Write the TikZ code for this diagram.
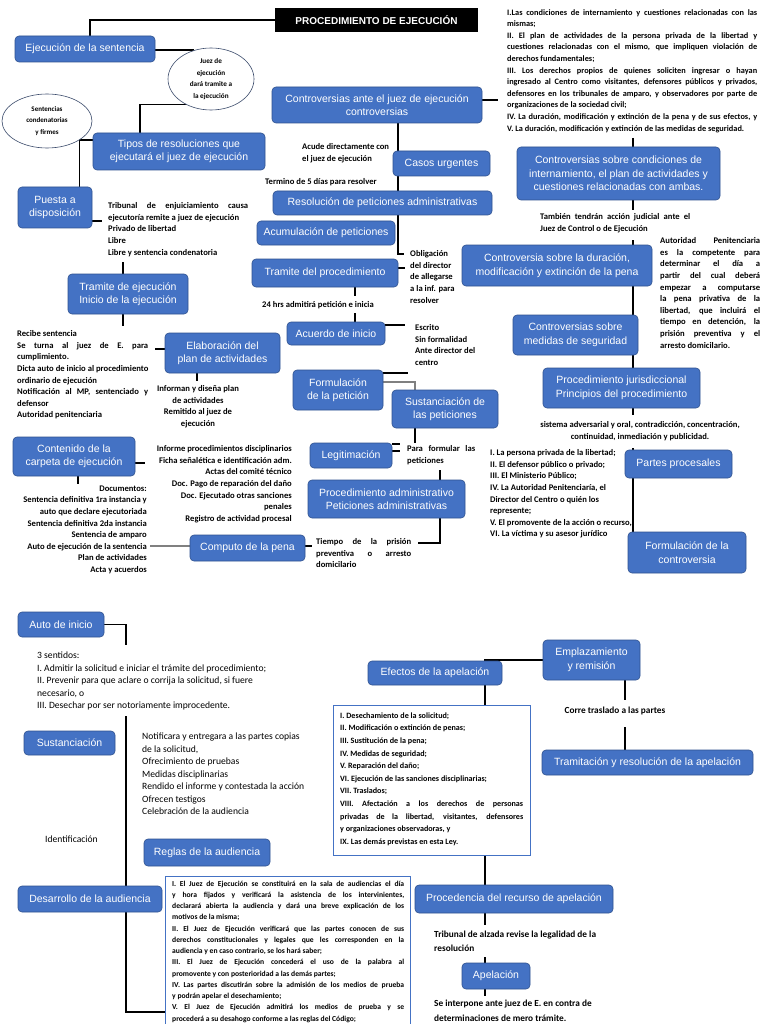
\documentclass[tikz,border=0pt]{standalone}
\usepackage{fontspec}
\setmainfont{Liberation Sans}
\newfontfamily\carl{Carlito}
\usetikzlibrary{shapes.geometric,backgrounds}
\definecolor{boxblue}{HTML}{4472C4}
\definecolor{boxedge}{HTML}{2F528F}
\definecolor{ovaledge}{HTML}{3C4C6C}
\newcommand{\jw}[2]{\makebox[#1pt][s]{#2}}
\newcommand{\sm}{\carl\bfseries\fontsize{8.6}{11.6}\selectfont}
\newcommand{\smb}{\carl\fontsize{9.6}{12.4}\selectfont}
\newcommand{\bxf}{\fontsize{10.5}{13.5}\selectfont}
\tikzset{
 bluebox/.style={rounded corners=4pt, fill=boxblue, draw=boxedge, line width=0.6pt, text=white, font=\bxf, align=center, inner sep=1pt},
 smalltext/.style={font=\sm, inner sep=0pt, anchor=north west, align=left},
 conn/.style={line width=1.3pt, black},
 gconn/.style={line width=1.3pt, gray},
 ovalnode/.style={ellipse, draw=ovaledge, line width=0.6pt, fill=white, inner sep=0pt, align=center, font=\carl\bfseries\fontsize{7.2}{11.7}\selectfont},
 listbox/.style={draw=boxblue, line width=0.8pt, fill=white, inner sep=0pt},
}
\newcommand{\mybox}[6]{\node[bluebox, minimum width={#4-#2}, minimum height={#5-#3}] (#1) at ({(#2+#4)/2},{(#3+#5)/2}) {#6};}
\begin{document}
\begin{tikzpicture}[x=1pt,y=-1pt]
\useasboundingbox (0,0) rectangle (768,1024);

% title
\node[fill=black, text=white, font=\bfseries\fontsize{10}{12}\selectfont, minimum width=203, minimum height=24, inner sep=0] (title) at (376.5,20) {PROCEDIMIENTO DE EJECUCIÓN};

% ellipses
\node[ovalnode, minimum width=86, minimum height=62] (el1) at (211,79) {Juez de\\ejecución\\dará tramite a\\la ejecución};
\node[ovalnode, font=\carl\bfseries\fontsize{7}{11.7}\selectfont, minimum width=90, minimum height=54] (el2) at (47,121) {Sentencias\\condenatorias\\y firmes};

% blue boxes top half
\mybox{ejec}{15}{36}{155}{62}{Ejecución de la sentencia}
\mybox{contr}{272}{87}{482}{123}{Controversias ante el juez de ejecución\\controversias}
\mybox{tipos}{93}{133}{265}{170}{Tipos de resoluciones que\\ejecutará el juez de ejecución}
\mybox{casos}{393}{151}{490}{176}{Casos urgentes}
\mybox{resol}{273}{191}{492}{215}{Resolución de peticiones administrativas}
\mybox{acum}{257}{221}{395}{245}{Acumulación de peticiones}
\mybox{puesta}{18}{187}{92}{228}{Puesta a\\disposición}
\mybox{tramproc}{252}{259}{398}{287}{Tramite del procedimiento}
\mybox{tramej}{68}{274}{188}{314}{Tramite de ejecución\\Inicio de la ejecución}
\mybox{acuerdo}{287}{322}{385}{345}{Acuerdo de inicio}
\mybox{elab}{165}{333}{280}{373}{Elaboración del\\plan de actividades}
\mybox{formpet}{293}{370}{383}{410}{Formulación\\de la petición}
\mybox{sustpet}{392}{390}{498}{428}{Sustanciación de\\las peticiones}
\mybox{contenido}{13}{437}{135}{476}{Contenido de la\\carpeta de ejecución}
\mybox{legit}{310}{443}{392}{468}{Legitimación}
\mybox{procadm}{308}{480}{465}{518}{Procedimiento administrativo\\Peticiones administrativas}
\mybox{computo}{190}{535}{305}{561}{Computo de la pena}
\mybox{csc}{517}{147}{720}{200}{Controversias sobre condiciones de\\internamiento, el plan de actividades y\\cuestiones relacionadas con ambas.}
\mybox{cdur}{462}{245}{652}{286}{Controversia sobre la duración,\\modificación y extinción de la pena}
\mybox{cmed}{513}{315}{638}{355}{Controversias sobre\\medidas de seguridad}
\mybox{pjur}{543}{368}{700}{408}{Procedimiento jurisdiccional\\Principios del procedimiento}
\mybox{partes}{625}{450}{732}{478}{Partes procesales}
\mybox{formcon}{628}{532}{746}{573}{Formulación de la\\controversia}

% blue boxes bottom half
\mybox{autoini}{18}{612}{104}{637}{Auto de inicio}
\mybox{sust}{24}{731}{115}{755}{Sustanciación}
\mybox{reglas}{144}{839}{270}{866}{Reglas de la audiencia}
\mybox{desarr}{18}{886}{162}{912}{Desarrollo de la audiencia}
\mybox{efectos}{368}{661}{502}{685}{Efectos de la apelación}
\mybox{emplaz}{543}{640}{640}{680}{Emplazamiento\\y remisión}
\mybox{tramit}{542}{750}{753}{775}{Tramitación y resolución de la apelación}
\mybox{proced}{415}{885}{613}{913}{Procedencia del recurso de apelación}
\mybox{apel}{462}{963}{530}{989}{Apelación}

% list boxes
\node[listbox, minimum width=197, minimum height=150] (eflist) at (431.5,780) {};
\node[listbox, minimum width=245, minimum height=170] (audbox) at (287.5,961) {};

% small texts, top half
\node[smalltext, font=\carl\bfseries\fontsize{8.3}{11.6}\selectfont] (toplist) at (507,9) {%
\jw{250}{I.Las condiciones de internamiento y cuestiones relacionadas con las}\\
mismas;\\
\jw{250}{II. El plan de actividades de la persona privada de la libertad y}\\
\jw{250}{cuestiones relacionadas con el mismo, que impliquen violación de}\\
derechos fundamentales;\\
\jw{250}{III. Los derechos propios de quienes soliciten ingresar o hayan}\\
\jw{250}{ingresado al Centro como visitantes, defensores públicos y privados,}\\
\jw{250}{defensores en los tribunales de amparo, y observadores por parte de}\\
organizaciones de la sociedad civil;\\
\jw{250}{IV. La duración, modificación y extinción de la pena y de sus efectos, y}\\
V. La duración, modificación y extinción de las medidas de seguridad.};
\node[smalltext] (acude) at (302,143.5) {Acude directamente con\\el juez de ejecución};
\node[smalltext] (termino) at (265,178.5) {Termino de 5 días para resolver};
\node[smalltext] (trib) at (108,202.5) {\jw{140}{Tribunal de enjuiciamiento causa}\\ejecutoría remite a juez de ejecución\\Privado de libertad\\Libre\\Libre y sentencia condenatoria};
\node[smalltext] (oblig) at (410,250.5) {Obligación\\del director\\de allegarse\\a la inf. para\\resolver};
\node[smalltext, anchor=center] (hrs) at (318,305) {24 hrs admitirá petición e inicia};
\node[smalltext] (escrito) at (415,324.5) {Escrito\\Sin formalidad\\Ante director del\\centro};
\node[smalltext] (recibe) at (17,330.5) {Recibe sentencia\\\jw{131}{Se turna al juez de E. para}\\cumplimiento.\\Dicta auto de inicio al procedimiento\\ordinario de ejecución\\\jw{131}{Notificación al MP, sentenciado y}\\defensor\\Autoridad penitenciaria};
\node[smalltext, anchor=north, align=center] (informan) at (198,385.5) {Informan y diseña plan\\de actividades\\Remitido al juez de\\ejecución};
\node[smalltext, anchor=north east, align=right] (informe) at (292,445.5) {Informe procedimientos disciplinarios\\Ficha señalética e identificación adm.\\Actas del comité técnico\\Doc. Pago de reparación del daño\\Doc. Ejecutado otras sanciones\\penales\\Registro de actividad procesal};
\node[smalltext] (para) at (407,445.5) {\jw{68}{Para formular las}\\peticiones};
\node[smalltext, anchor=north east, align=right] (docs) at (147,485.5) {Documentos:\\Sentencia definitiva 1ra instancia y\\auto que declare ejecutoriada\\Sentencia definitiva 2da instancia\\Sentencia de amparo\\Auto de ejecución de la sentencia\\Plan de actividades\\Acta y acuerdos};
\node[smalltext] (tiempo) at (316,538.5) {\jw{95}{Tiempo de la prisión}\\\jw{95}{preventiva o arresto}\\domicilario};

% small texts, right
\node[smalltext] (tambien) at (540,213.5) {\jw{150}{También tendrán acción judicial ante el}\\Juez de Control o de Ejecución};
\node[smalltext] (autoridad) at (660,237.5) {%
\jw{100}{Autoridad Penitenciaria}\\
\jw{100}{es la competente para}\\
\jw{100}{determinar el día a}\\
\jw{100}{partir del cual deberá}\\
\jw{100}{empezar a computarse}\\
\jw{100}{la pena privativa de la}\\
\jw{100}{libertad, que incluirá el}\\
\jw{100}{tiempo en detención, la}\\
\jw{100}{prisión preventiva y el}\\
arresto domicilario.};
\node[smalltext, anchor=north, align=center] (sistema) at (640,421.5) {sistema adversarial y oral, contradicción, concentración,\\continuidad, inmediación y publicidad.};
\node[smalltext] (personas) at (490,449.5) {I. La persona privada de la libertad;\\II. El defensor público o privado;\\III. El Ministerio Público;\\IV. La Autoridad Penitenciaría, el\\Director del Centro o quién los\\represente;\\V. El promovente de la acción o recurso,\\VI. La víctima y su asesor jurídico};

% small texts, bottom half
\node[smalltext, font=\smb] (sentidos) at (37,652) {3 sentidos:\\I. Admitir la solicitud e iniciar el trámite del procedimiento;\\II. Prevenir para que aclare o corrija la solicitud, si fuere\\necesario, o\\III. Desechar por ser notoriamente improcedente.};
\node[smalltext, font=\carl\fontsize{9.6}{12.5}\selectfont] (notif) at (142,733) {Notificara y entregara a las partes copias\\de la solicitud,\\Ofrecimiento de pruebas\\Medidas disciplinarias\\Rendido el informe y contestada la acción\\Ofrecen testigos\\Celebración de la audiencia};
\node[smalltext, font=\smb] (ident) at (45,835.5) {Identificación};
\node[smalltext, font=\carl\bfseries\fontsize{8.1}{12.6}\selectfont] (eftext) at (340,712.5) {I. Desechamiento de la solicitud;\\II. Modificación o extinción de penas;\\III. Sustitución de la pena;\\IV. Medidas de seguridad;\\V. Reparación del daño;\\VI. Ejecución de las sanciones disciplinarias;\\VII. Traslados;\\\jw{183}{VIII. Afectación a los derechos de personas}\\\jw{183}{privadas de la libertad, visitantes, defensores}\\y organizaciones observadoras, y\\IX. Las demás previstas en esta Ley.};
\node[smalltext, font=\carl\bfseries\fontsize{7.6}{11.25}\selectfont] (audtext) at (172,880.5) {%
\jw{232}{I. El Juez de Ejecución se constituirá en la sala de audiencias el día}\\
\jw{232}{y hora fijados y verificará la asistencia de los intervinientes,}\\
\jw{232}{declarará abierta la audiencia y dará una breve explicación de los}\\
motivos de la misma;\\
\jw{232}{II. El Juez de Ejecución verificará que las partes conocen de sus}\\
\jw{232}{derechos constitucionales y legales que les corresponden en la}\\
audiencia y en caso contrario, se los hará saber;\\
\jw{232}{III. El Juez de Ejecución concederá el uso de la palabra al}\\
promovente y con posterioridad a las demás partes;\\
\jw{232}{IV. Las partes discutirán sobre la admisión de los medios de prueba}\\
y podrán apelar el desechamiento;\\
\jw{232}{V. El Juez de Ejecución admitirá los medios de prueba y se}\\
procederá a su desahogo conforme a las reglas del Código;};
\node[smalltext, font=\carl\bfseries\fontsize{9.3}{12}\selectfont, anchor=center] (corre) at (615,711) {Corre traslado a las partes};
\node[smalltext, font=\carl\bfseries\fontsize{9.3}{13.5}\selectfont] (alzada) at (434,931) {Tribunal de alzada revise la legalidad de la\\resolución};
\node[smalltext, font=\carl\bfseries\fontsize{9.3}{14.5}\selectfont] (interp) at (434,1000) {Se interpone ante juez de E. en contra de\\determinaciones de mero trámite.};

% free-end coordinates
\coordinate (c1) at (102,221);
\coordinate (c2) at (123,262);
\coordinate (c3) at (123,326);
\coordinate (c4) at (155,349);
\coordinate (c5) at (197,381);
\coordinate (c6) at (145,463);
\coordinate (c7) at (78,484);
\coordinate (c8) at (150,546);
\coordinate (c9) at (312,546);
\coordinate (c10) at (418,543);
\coordinate (c11) at (440,470);
\coordinate (c12a) at (400,444);
\coordinate (c12b) at (400,451);
\coordinate (c13) at (415,443);
\coordinate (c14) at (408,373);
\coordinate (c15) at (383,382);
\coordinate (c16) at (405,325);
\coordinate (c17) at (355,296);
\coordinate (c18) at (355,313);
\coordinate (c19) at (405,268);
\coordinate (c20) at (404,254);
\coordinate (c21) at (498,100);
\coordinate (c22) at (633,138);
\coordinate (c23) at (633,210);
\coordinate (c24) at (633,240);
\coordinate (c25) at (633,415);
\coordinate (c26) at (633,448);
\coordinate (c27) at (126,645);
\coordinate (c28) at (126,716);
\coordinate (c29) at (165,1012);
\coordinate (c30) at (485,925);
\coordinate (c31) at (485,957);
\coordinate (c32) at (485,996);
\coordinate (c33) at (625,700);
\coordinate (c34) at (625,727);

\begin{pgfonlayer}{background}
\fill[white] (0,0) rectangle (768,1024);
\draw[conn] (title.west) -| ([xshift=5pt]ejec.north);
\draw[conn] (ejec.east |- el1.120) -- (el1.120);
\draw[conn] ([xshift=-39pt]tipos.north) |- (el1.225);
\draw[conn] (tipos.west |- el2.-30) -- (el2.-30) -- (el2.-30 |- puesta.north);
\draw[conn] (puesta.east |- c1) -- (c1);
\draw[conn] (c2) -- (c2 |- tramej.north);
\draw[conn] (c3 |- tramej.south) -- (c3);
\draw[conn] (c4) -- (elab.west |- c4);
\draw[conn] (c5 |- elab.south) -- (c5);
\draw[conn] (contenido.east |- c6) -- (c6);
\draw[conn] (c7 |- contenido.south) -- (c7);
\draw[gconn] (c8) -- (computo.west |- c8);
\draw[conn] (computo.east |- c9) -- (c9);
\draw[conn] (c10) -| ([xshift=53.5pt]procadm.south);
\draw[conn] (c11) -- ([xshift=53.5pt]procadm.north);
\draw[conn] (legit.east |- c12a) -- (c12a);
\draw[conn] (legit.east |- c12b) -- (c12b);
\draw[conn] ([xshift=-30pt]sustpet.south) -- (c13);
\draw[conn] (formpet.east |- c14) -- (c14);
\draw[gconn] (c15) -| ([xshift=-30pt]sustpet.north);
\draw[conn] (acuerdo.east |- c16) -- (c16);
\draw[conn] (c17 |- tramproc.south) -- (c17);
\draw[conn] (c18) -- (c18 |- acuerdo.north);
\draw[conn] (tramproc.east |- c19) -- (c19);
\draw[conn] ([xshift=21pt]contr.south) |- (c20);
\draw[conn] (contr.east |- c21) -- (c21);
\draw[conn] (c22) -- (c22 |- csc.north);
\draw[conn] (c23 |- csc.south) -- (c23);
\draw[conn] (c24) -- (c24 |- pjur.north);
\draw[conn] (c25 |- pjur.south) -- (c25);
\draw[conn] (c26) -- (c26 |- formcon.north);
\draw[conn] (autoini.east) -| (c27);
\draw[conn] (c28) |- (audbox.west |- c29);
\draw[conn] (emplaz.west) -| ([xshift=50pt]efectos.north);
\draw[conn] ([xshift=50pt]efectos.south) -- ([xshift=50pt]efectos.south |- eflist.north);
\draw[conn] ([xshift=-29pt]proced.north |- eflist.south) -- ([xshift=-29pt]proced.north);
\draw[conn] (c30 |- proced.south) -- (c30);
\draw[conn] (c31) -- (c31 |- apel.north);
\draw[conn] (c32 |- apel.south) -- (c32);
\draw[conn] (c33 |- emplaz.south) -- (c33);
\draw[conn] (c34) -- (c34 |- tramit.north);
\end{pgfonlayer}
\end{tikzpicture}
\end{document}
